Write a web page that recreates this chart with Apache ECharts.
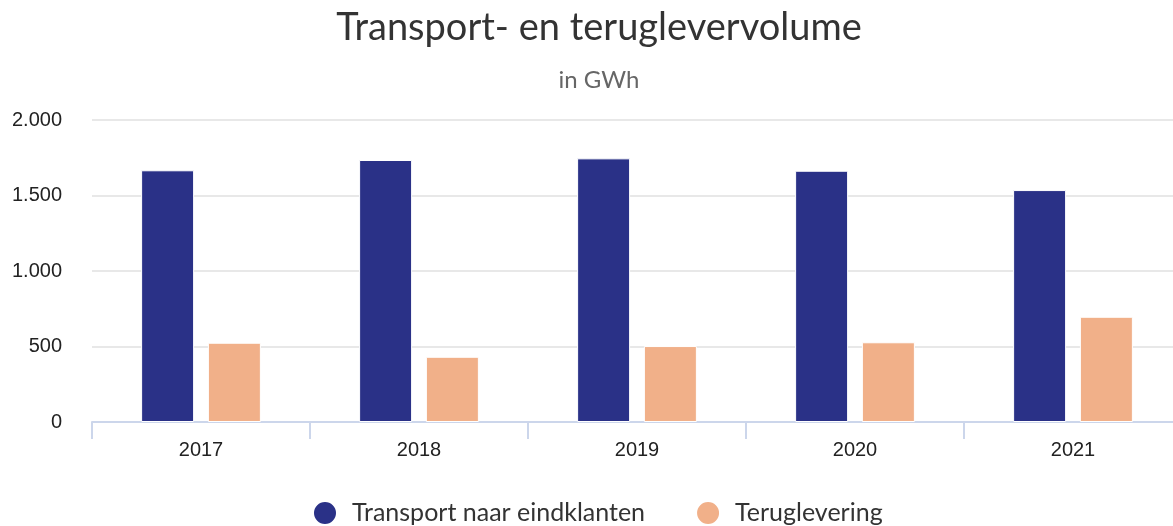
<!DOCTYPE html>
<html lang="nl">
<head>
  <meta charset="utf-8"/>
  <title>Transport- en teruglevervolume</title>
  <script src="https://cdn.jsdelivr.net/npm/echarts@6/dist/echarts.min.js"></script>
  <style>
    html, body { margin: 0; padding: 0; background: #fff; }
  </style>
</head>
<body>
<div id="main" style="width: 1173px;height: 526px"></div>
<script type="text/javascript">
  // data
  var years = ['2017', '2018', '2019', '2020', '2021'];
  var transport = [1667, 1735, 1746, 1664, 1536];
  var teruglevering = [525, 432, 503, 528, 697];
  var yTicks = [0, 500, 1000, 1500, 2000];

  var myChart = echarts.init(document.getElementById('main'));

  function nl(v) {
    return String(v).replace(/\B(?=(\d{3})+(?!\d))/g, '.');
  }

  myChart.setOption({
    animation: false,
    title: {
      text: 'Transport- en teruglevervolume',
      subtext: 'in GWh',
      left: 594,
      textAlign: 'center',
      top: 4,
      itemGap: 21,
      textStyle: { fontFamily: 'Lato', fontSize: 38, fontWeight: 'normal', color: '#333333' },
      subtextStyle: { fontFamily: 'Lato', fontSize: 24, color: '#666666' }
    },
    legend: {
      bottom: -5,
      left: 307,
      icon: 'circle',
      itemWidth: 24,
      itemHeight: 24,
      itemGap: 50,
      textStyle: { fontFamily: 'Lato', fontSize: 25, color: '#333333', padding: [0, 0, 0, 10] },
      data: ['Transport naar eindklanten', 'Teruglevering']
    },
    grid: {
      left: 92,
      top: 120,
      width: 1090,
      bottom: 104,
      outerBoundsMode: 'none'
    },
    xAxis: {
      type: 'category',
      data: years,
      axisLine: { lineStyle: { color: '#ccd6eb', width: 2 } },
      axisTick: { show: true, length: 17, lineStyle: { color: '#ccd6eb', width: 2 } },
      axisLabel: { margin: 18, fontFamily: 'Liberation Sans', fontSize: 20, color: '#222222' }
    },
    yAxis: {
      type: 'value',
      min: yTicks[0],
      max: yTicks[yTicks.length - 1],
      interval: 500,
      axisLabel: {
        margin: 30,
        fontFamily: 'Liberation Sans',
        fontSize: 20,
        color: '#222222',
        formatter: nl
      },
      splitLine: { lineStyle: { color: '#e8e8e8', width: 2 } }
    },
    series: [
      {
        name: 'Transport naar eindklanten',
        type: 'bar',
        data: transport,
        barWidth: 53,
        barGap: '26%',
        itemStyle: { color: '#2a3187', borderColor: '#ffffff', borderWidth: 1 }
      },
      {
        name: 'Teruglevering',
        type: 'bar',
        data: teruglevering,
        barWidth: 53,
        itemStyle: { color: '#f1b089', borderColor: '#ffffff', borderWidth: 1 }
      }
    ]
  });
</script>
</body>
</html>
